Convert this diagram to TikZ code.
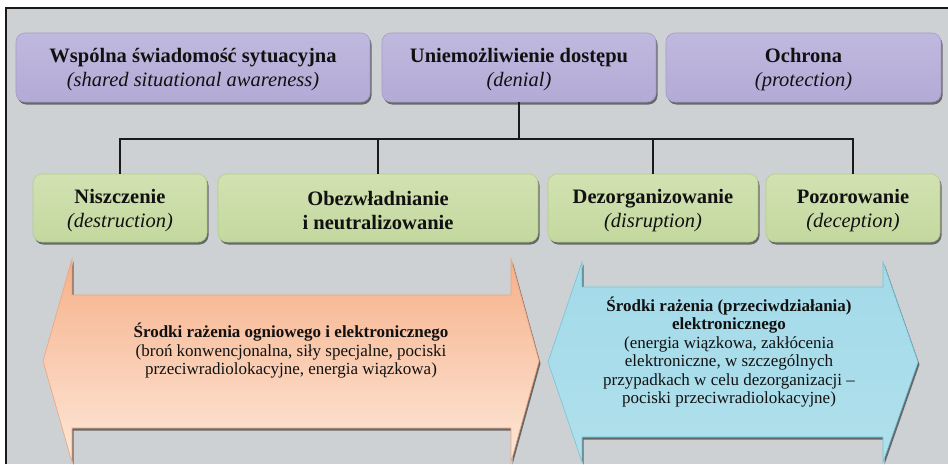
\documentclass[tikz,border=0pt]{standalone}
\usepackage{fontspec}
\setmainfont{Liberation Serif}
\usetikzlibrary{shadows}

\definecolor{panelgray}{HTML}{CDD1D4}
\definecolor{frameline}{HTML}{1A1A1A}
\definecolor{purpleTop}{HTML}{C0B9DE}
\definecolor{purpleMid}{HTML}{DEDCEF}
\definecolor{purpleBot}{HTML}{B3AAD6}
\definecolor{purpleEdge}{HTML}{A49BC9}
\definecolor{greenTop}{HTML}{D2E2B2}
\definecolor{greenMid}{HTML}{ECF2DC}
\definecolor{greenBot}{HTML}{C3D89E}
\definecolor{greenEdge}{HTML}{B3CC8A}
\definecolor{orangeTop}{HTML}{F6B08A}
\definecolor{orangeBot}{HTML}{FDE8D8}
\definecolor{orangeEdge}{HTML}{F2A277}
\definecolor{cyanTop}{HTML}{A3DAE9}
\definecolor{cyanMid}{HTML}{D8EFF5}
\definecolor{cyanBot}{HTML}{B0E0EC}
\definecolor{cyanEdge}{HTML}{6FC6DC}
\definecolor{ink}{HTML}{111111}

\tikzset{
  boxshadow/.style={drop shadow={shadow xshift=1.5pt, shadow yshift=-2.5pt, fill=black, opacity=0.5}},
  capbox/.style={rounded corners=9pt, inner sep=0pt, line width=0.6pt, boxshadow},
  topbox/.style={capbox, minimum height=69pt, draw=purpleEdge,
    top color=purpleTop, middle color=purpleMid, bottom color=purpleBot},
  modebox/.style={capbox, minimum height=68pt, draw=greenEdge,
    top color=greenTop, middle color=greenMid, bottom color=greenBot},
  boxtext/.style={align=center, text=ink, inner sep=0pt,
    font=\fontsize{20.5}{24}\selectfont},
  branch/.style={line width=1.4pt, draw=frameline},
  blockarrow/.style={line width=0.6pt, boxshadow},
  arrowtext/.style={align=center, text=ink, font=\fontsize{17}{18.5}\selectfont, inner sep=0pt}
}

\begin{document}
\begin{tikzpicture}[x=1pt,y=-1pt]
\useasboundingbox (0,0) rectangle (948,464);
% panel background and frame
\fill[white] (0,0) rectangle (948,464);
\fill[panelgray] (6,8) rectangle (948,464);
\draw[line width=1.5pt, frameline] (6,464) -- (6,8) -- (948,8);

% top row
\node[topbox, minimum width=354pt] (aware) at (193,67.5) {};
\node[topbox, minimum width=274pt] (deny) at (519,67.5) {};
\node[topbox, minimum width=275pt] (protect) at (803.5,67.5) {};
\node[boxtext] (awaretxt) at ([yshift=-2.5pt]aware.center)
  {{\bfseries Wspólna świadomość sytuacyjna}\\{\itshape (shared situational awareness)}};
\node[boxtext] (denytxt) at ([yshift=-2.5pt]deny.center)
  {{\bfseries Uniemożliwienie dostępu}\\{\itshape (denial)}};
\node[boxtext] (protecttxt) at ([yshift=-2.5pt]protect.center)
  {{\bfseries Ochrona}\\{\itshape (protection)}};

% second row
\node[modebox, minimum width=174pt] (destroy) at (120,208) {};
\node[modebox, minimum width=320pt] (neutral) at (378,208) {};
\node[modebox, minimum width=210pt] (disrupt) at (653,208) {};
\node[modebox, minimum width=174pt] (deceive) at (853,208) {};
\node[boxtext] (destroytxt) at ([yshift=-2.5pt]destroy.center)
  {{\bfseries Niszczenie}\\{\itshape (destruction)}};
\node[boxtext] (neutraltxt) at ([yshift=-2.5pt]neutral.center)
  {\bfseries Obezwładnianie\\\bfseries i neutralizowanie};
\node[boxtext] (disrupttxt) at ([yshift=-2.5pt]disrupt.center)
  {{\bfseries Dezorganizowanie}\\{\itshape (disruption)}};
\node[boxtext] (deceivetxt) at ([yshift=-2.5pt]deceive.center)
  {{\bfseries Pozorowanie}\\{\itshape (deception)}};

% branching connector
\coordinate (hub) at (519,139);
\draw[branch] (deny.south) -- (hub);
\draw[branch] (destroy.north) |- (hub);
\draw[branch] (deceive.north) |- (hub);
\draw[branch] (neutral.north) -- (neutral.north |- hub);
\draw[branch] (disrupt.north) -- (disrupt.north |- hub);

% double block arrows
\path[blockarrow, draw=orangeEdge, top color=orangeTop, bottom color=orangeBot]
  (43,361) -- (72,259) -- (72,295) -- (511,295) -- (511,259) -- (539,361)
  -- (511,462) -- (511,428) -- (72,428) -- (72,462) -- cycle;
\path[blockarrow, draw=cyanEdge, top color=cyanTop, middle color=cyanMid, bottom color=cyanBot]
  (548,362) -- (582,262) -- (582,287) -- (883,287) -- (883,262) -- (918,362)
  -- (883,462) -- (883,437) -- (582,437) -- (582,462) -- cycle;

\node[arrowtext] (firetext) at (291,351)
  {{\bfseries Środki rażenia ogniowego i elektronicznego}\\
   (broń konwencjonalna, siły specjalne, pociski\\
   przeciwradiolokacyjne, energia wiązkowa)};
\node[arrowtext] (ewtext) at (729,352)
  {{\bfseries Środki rażenia (przeciwdziałania)}\\
   {\bfseries elektronicznego}\\
   (energia wiązkowa, zakłócenia\\
   elektroniczne, w szczególnych\\
   przypadkach w celu dezorganizacji –\\
   pociski przeciwradiolokacyjne)};
\end{tikzpicture}
\end{document}
